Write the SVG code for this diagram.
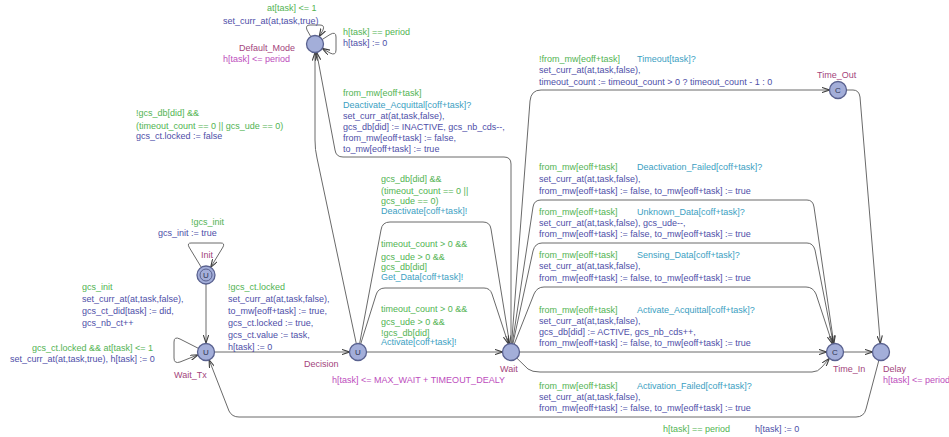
<svg xmlns="http://www.w3.org/2000/svg" width="949" height="437" viewBox="0 0 949 437">
<defs>
<marker id="arr" viewBox="0 0 8 6" refX="8" refY="3" markerWidth="8" markerHeight="6" orient="auto" markerUnits="userSpaceOnUse">
<path d="M0,0.3 L8,3 L0,5.7" fill="none" stroke="#3f3f3f" stroke-width="1.1"/>
</marker>
<style>
text{font-family:"Liberation Sans",Arial,sans-serif;font-size:9px}
.g{fill:#52b352}
.u{fill:#4e4ea8}
.s{fill:#3ba0c2}
.n{fill:#a3447c}
.i{fill:#bd4dbd}
.e{fill:none;stroke:#6a6a6a;stroke-width:1;marker-end:url(#arr)}
.loc{fill:#a3aed9;stroke:#59618f;stroke-width:1.3}
.k{fill:#2f3550;font-size:8px;text-anchor:middle}
</style>
</defs>
<rect width="949" height="437" fill="#ffffff"/>

<!-- transitions -->
<g id="edges">
<path class="e" d="M206,284 L206,343"/>
<path class="e" d="M201.3,267.3 L189,247 Q187,243 191,243 L221,243 Q225,243 223,247 L210.7,267.3"/>
<path class="e" d="M198.3,348.3 L180,339 Q174,336 174,342 L174,358 Q174,364 180,362 L198,354.8"/>
<path class="e" d="M214.5,352 L349.5,352"/>
<path class="e" d="M366.5,352 L502.5,352"/>
<path class="e" d="M359.6,343.7 L381,230 Q382,222 390,222 L483,222 Q490,222 491,229 L509.6,343.6"/>
<path class="e" d="M360.7,343.9 L376,295 Q378,288 385,288 L484,288 Q490,288 492,294 L508.4,343.9"/>
<path class="e" d="M356.3,343.7 L317,158 Q315,150 315,140 L315,52.5"/>
<path class="e" d="M511,343.5 L511,164 Q511,157 504,157 L343,157 Q336,157 335,150 L316.6,52.4"/>
<path class="e" d="M511.6,343.5 L530,101 Q531,90 541,90 L829.5,90"/>
<path class="e" d="M846.5,90 L853,90 Q859,90 860,97 L880.3,343.5"/>
<path class="e" d="M512.3,343.6 L533,207 Q534,200 541,200 L807,200 Q813,200 814,207 L833.8,343.6"/>
<path class="e" d="M512.9,343.7 L533,251 Q535,243 542,243 L807,243 Q813,243 815,250 L833.4,343.7"/>
<path class="e" d="M514.2,344.1 L534,294 Q537,287 544,287 L806,287 Q813,287 816,294 L832.4,343.9"/>
<path class="e" d="M519.5,352 L826.5,352"/>
<path class="e" d="M516.9,358.2 L528,369 Q532,372 540,372 L812,372 Q818,372 822,367 L829.4,358.4"/>
<path class="e" d="M843.5,352 L872.5,352"/>
<path class="e" d="M878.9,360.2 L866,409 Q864,417 856,417 L239,417 Q232,417 229,411 L209.1,359.9"/>
<path class="e" d="M310.8,36.6 L307,30 Q305,25 310,25 L320,25 Q325,25 323,30 L319.2,36.6"/>
<path class="e" d="M322.2,39.5 L330,34.5 Q336,31 336,37 L336,50 Q336,56 330,53 L322.3,48.4"/>
</g>

<!-- transition labels -->
<g id="labels">
<text class="g" x="267" y="11">at[task] &lt;= 1</text>
<text class="u" x="223" y="24">set_curr_at(at,task,true)</text>
<text class="g" x="343" y="35">h[task] == period</text>
<text class="u" x="343" y="46">h[task] := 0</text>

<text class="g" x="343" y="96">from_mw[eoff+task]</text>
<text class="s" x="343" y="108">Deactivate_Acquittal[coff+task]?</text>
<text class="u" x="343" y="119">set_curr_at(at,task,false),</text>
<text class="u" x="343" y="130">gcs_db[did] := INACTIVE, gcs_nb_cds--,</text>
<text class="u" x="343" y="141">from_mw[eoff+task] := false,</text>
<text class="u" x="343" y="152">to_mw[eoff+task] := true</text>

<text class="g" x="136" y="116">!gcs_db[did] &amp;&amp;</text>
<text class="g" x="136" y="129">(timeout_count == 0 || gcs_ude == 0)</text>
<text class="u" x="136" y="139">gcs_ct.locked := false</text>

<text class="g" x="191" y="225">!gcs_init</text>
<text class="u" x="158" y="236">gcs_init := true</text>

<text class="g" x="82" y="290">gcs_init</text>
<text class="u" x="82" y="302">set_curr_at(at,task,false),</text>
<text class="u" x="82" y="314">gcs_ct_did[task] := did,</text>
<text class="u" x="82" y="326">gcs_nb_ct++</text>

<text class="g" x="32" y="351">gcs_ct.locked &amp;&amp; at[task] &lt;= 1</text>
<text class="u" x="10" y="362">set_curr_at(at,task,true), h[task] := 0</text>

<text class="g" x="228" y="290">!gcs_ct.locked</text>
<text class="u" x="228" y="302">set_curr_at(at,task,false),</text>
<text class="u" x="228" y="314">to_mw[eoff+task] := true,</text>
<text class="u" x="228" y="326">gcs_ct.locked := true,</text>
<text class="u" x="228" y="338">gcs_ct.value := task,</text>
<text class="u" x="228" y="350">h[task] := 0</text>

<text class="g" x="381" y="182">gcs_db[did] &amp;&amp;</text>
<text class="g" x="381" y="194">(timeout_count == 0 ||</text>
<text class="g" x="381" y="204">gcs_ude == 0)</text>
<text class="s" x="381" y="214">Deactivate[coff+task]!</text>

<text class="g" x="381" y="247">timeout_count &gt; 0 &amp;&amp;</text>
<text class="g" x="381" y="260">gcs_ude &gt; 0 &amp;&amp;</text>
<text class="g" x="381" y="270">gcs_db[did]</text>
<text class="s" x="381" y="280">Get_Data[coff+task]!</text>

<text class="g" x="381" y="312">timeout_count &gt; 0 &amp;&amp;</text>
<text class="g" x="381" y="325">gcs_ude &gt; 0 &amp;&amp;</text>
<text class="g" x="381" y="336">!gcs_db[did]</text>
<text class="s" x="381" y="345">Activate[coff+task]!</text>

<text class="g" x="539" y="62">!from_mw[eoff+task]</text>
<text class="s" x="637" y="62">Timeout[task]?</text>
<text class="u" x="539" y="73">set_curr_at(at,task,false),</text>
<text class="u" x="539" y="85">timeout_count := timeout_count &gt; 0 ? timeout_count - 1 : 0</text>

<text class="g" x="539" y="170">from_mw[eoff+task]</text>
<text class="s" x="637" y="170">Deactivation_Failed[coff+task]?</text>
<text class="u" x="539" y="182">set_curr_at(at,task,false),</text>
<text class="u" x="539" y="194">from_mw[eoff+task] := false, to_mw[eoff+task] := true</text>

<text class="g" x="539" y="215">from_mw[eoff+task]</text>
<text class="s" x="637" y="215">Unknown_Data[coff+task]?</text>
<text class="u" x="539" y="226">set_curr_at(at,task,false), gcs_ude--,</text>
<text class="u" x="539" y="237">from_mw[eoff+task] := false, to_mw[eoff+task] := true</text>

<text class="g" x="539" y="258">from_mw[eoff+task]</text>
<text class="s" x="637" y="258">Sensing_Data[coff+task]?</text>
<text class="u" x="539" y="269">set_curr_at(at,task,false),</text>
<text class="u" x="539" y="281">from_mw[eoff+task] := false, to_mw[eoff+task] := true</text>

<text class="g" x="539" y="313">from_mw[eoff+task]</text>
<text class="s" x="637" y="313">Activate_Acquittal[coff+task]?</text>
<text class="u" x="539" y="324">set_curr_at(at,task,false),</text>
<text class="u" x="539" y="335">gcs_db[did] := ACTIVE, gcs_nb_cds++,</text>
<text class="u" x="539" y="346">from_mw[eoff+task] := false, to_mw[eoff+task] := true</text>

<text class="g" x="539" y="389">from_mw[eoff+task]</text>
<text class="s" x="637" y="389">Activation_Failed[coff+task]?</text>
<text class="u" x="539" y="400">set_curr_at(at,task,false),</text>
<text class="u" x="539" y="411">from_mw[eoff+task] := false, to_mw[eoff+task] := true</text>

<text class="g" x="663" y="432">h[task] == period</text>
<text class="u" x="755" y="432">h[task] := 0</text>
</g>

<!-- locations -->
<g id="Default_Mode">
<circle class="loc" cx="315" cy="44" r="8.5"/>
<text class="n" x="239" y="51">Default_Mode</text>
<text class="i" x="223" y="62">h[task] &lt;= period</text>
</g>
<g id="Init">
<circle class="loc" cx="206" cy="275" r="9"/>
<circle fill="none" stroke="#59618f" stroke-width="1" cx="206" cy="275" r="6"/>
<text class="k" x="206" y="278">U</text>
<text class="n" x="201" y="258">Init</text>
</g>
<g id="Wait_Tx">
<circle class="loc" cx="206" cy="352" r="8.5"/>
<text class="k" x="206" y="355">U</text>
<text class="n" x="174" y="378">Wait_Tx</text>
</g>
<g id="Decision">
<circle class="loc" cx="358" cy="352" r="8.5"/>
<text class="k" x="358" y="355">U</text>
<text class="n" x="304" y="367">Decision</text>
<text class="i" x="332" y="383">h[task] &lt;= MAX_WAIT + TIMEOUT_DEALY</text>
</g>
<g id="Wait">
<circle class="loc" cx="511" cy="352" r="8.5"/>
<text class="n" x="500" y="372">Wait</text>
</g>
<g id="Time_Out">
<circle class="loc" cx="838" cy="90" r="8.5"/>
<text class="k" x="838" y="93">C</text>
<text class="n" x="817" y="78">Time_Out</text>
</g>
<g id="Time_In">
<circle class="loc" cx="835" cy="352" r="8.5"/>
<text class="k" x="835" y="355">C</text>
<text class="n" x="833" y="372">Time_In</text>
</g>
<g id="Delay">
<circle class="loc" cx="881" cy="352" r="8.5"/>
<text class="n" x="883" y="372">Delay</text>
<text class="i" x="883" y="383">h[task] &lt;= period</text>
</g>
</svg>
